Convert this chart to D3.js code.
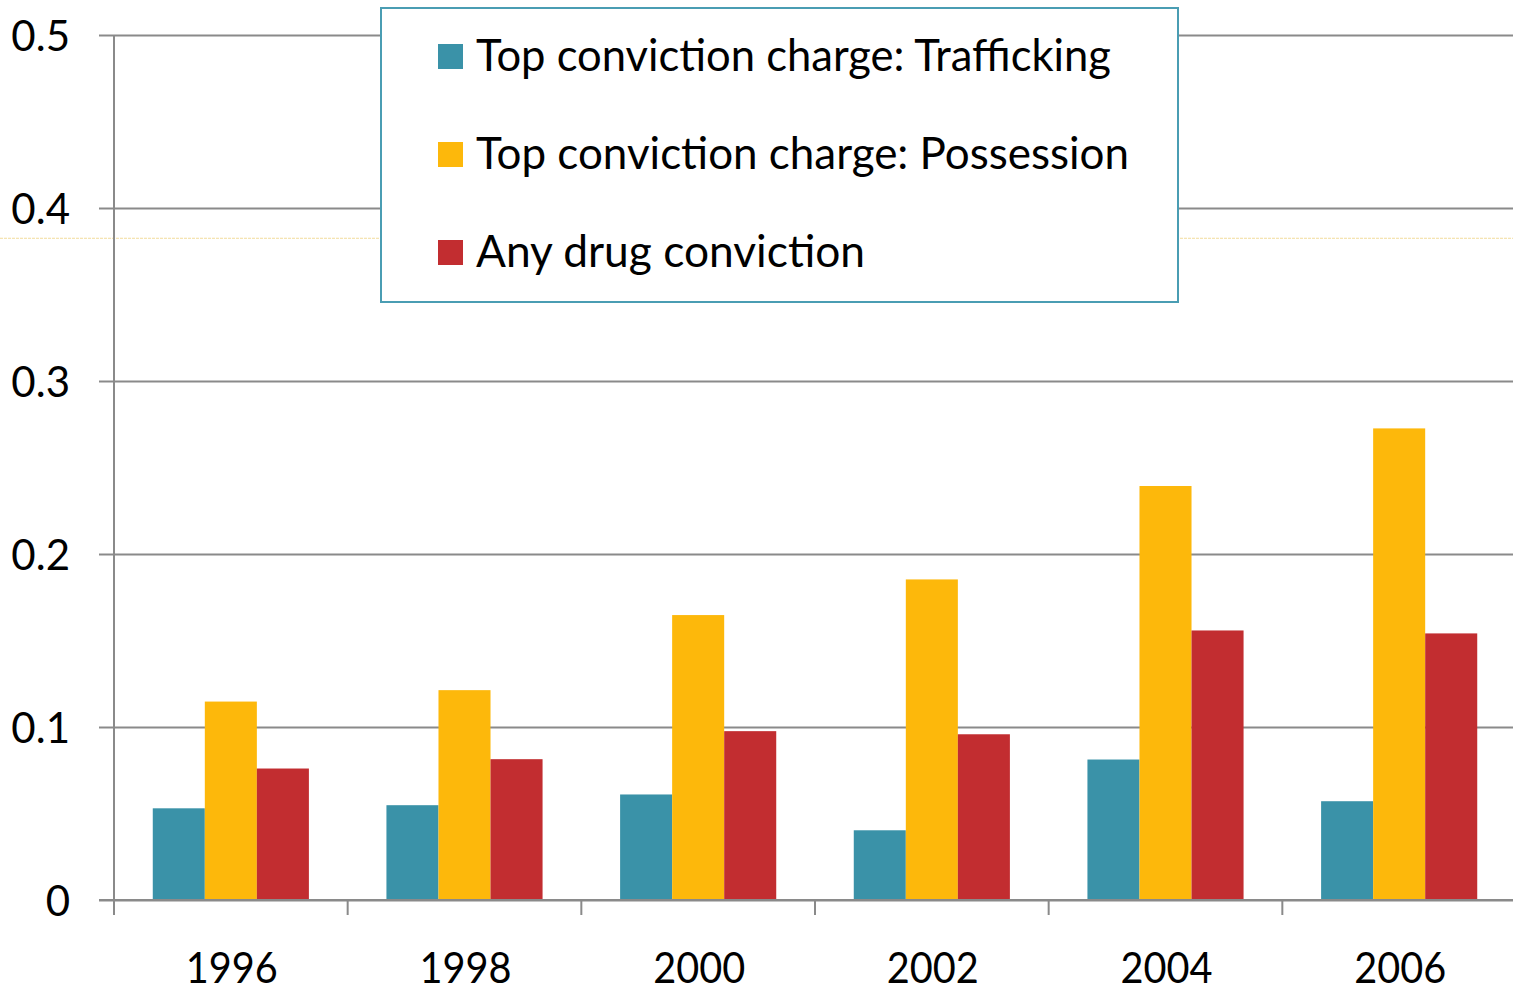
<!DOCTYPE html>
<html>
<head>
<meta charset="utf-8">
<script src="https://cdn.jsdelivr.net/npm/d3@7"></script>
<style>
    html, body { margin: 0; padding: 0; background: #fff; overflow: hidden; }
    #chart { width: 1513px; height: 992px; }
    text { font-family: "Gill Sans", "Gill Sans MT", Lato, "Noto Sans", sans-serif; fill: #000; }
</style>
</head>
<body>
<div id="chart"></div>
<script>
///// DATOS /////
let years = ['1996', '1998', '2000', '2002', '2004', '2006'];
let seriesNames = ['Top conviction charge: Trafficking', 'Top conviction charge: Possession', 'Any drug conviction'];
let trafficking = [0.053, 0.0548, 0.061, 0.0403, 0.0812, 0.0571];
let possession = [0.1147, 0.1213, 0.1647, 0.1853, 0.2393, 0.2726];
let anyDrug = [0.076, 0.0814, 0.0976, 0.0958, 0.1558, 0.1541];
let yTicks = [0, 0.1, 0.2, 0.3, 0.4, 0.5];
let colors = ['#3a92a8', '#fdb80b', '#c22d30'];
let strayLineValue = 0.3825; //línea amarilla tenue que aparece en el original

let innerData = years.map(function(y, i) {
    return { year: y, values: [trafficking[i], possession[i], anyDrug[i]] };
});

///// GRÁFICO /////
let chartBlock = d3.select('#chart');
//el área de dibujo se sale un poco por la derecha, como en el original
let margin = {top: 35, right: -3, bottom: 92, left: 114};
let width = 1513 - margin.left - margin.right,
    height = 992 - margin.top - margin.bottom;

let svg = chartBlock.append('svg')
    .attr('width', 1513)
    .attr('height', 992);

let chart = svg.append('g')
    .attr('transform', 'translate(' + margin.left + ',' + margin.top + ')');

//Escalas
let x0 = d3.scaleBand()
    .domain(years)
    .range([0, width])
    .paddingInner(0)
    .paddingOuter(0);

let x1 = d3.scaleBand()
    .domain(d3.range(seriesNames.length))
    .range([0, x0.step()])
    .paddingInner(0)
    .paddingOuter(0.745);

let y = d3.scaleLinear()
    .domain([0, 0.5])
    .range([height, 0]);

//Línea amarilla suelta
chart.append('line')
    .attr('x1', -margin.left)
    .attr('x2', width)
    .attr('y1', y(strayLineValue))
    .attr('y2', y(strayLineValue))
    .attr('stroke', '#f3dc9c')
    .attr('stroke-width', 1)
    .attr('stroke-dasharray', '3,1');

//Eje Y con líneas de rejilla
let yAxis = function(g) {
    g.call(d3.axisLeft(y).tickValues(yTicks).tickSize(15).tickPadding(29)
        .tickFormat(function(d) { return d === 0 ? '0' : d3.format('.1f')(d); }));
    g.call(function(g) { g.select('.domain').remove(); });
    g.call(function(g) {
        g.selectAll('.tick line').clone()
            .attr('x1', 0)
            .attr('x2', width);
    });
    g.selectAll('.tick line')
        .attr('stroke', '#8a8a8a')
        .attr('stroke-width', 2);
    g.selectAll('.tick text')
        .attr('dy', '0.36em')
        .style('font-size', '42px');
};

chart.append('g').call(yAxis);

//Barras
chart.append('g')
    .selectAll('g')
    .data(innerData)
    .enter()
    .append('g')
    .attr('transform', function(d) { return 'translate(' + x0(d.year) + ',0)'; })
    .selectAll('rect')
    .data(function(d) { return d.values.map(function(v, i) { return {i: i, v: v}; }); })
    .enter()
    .append('rect')
    .attr('x', function(d) { return x1(d.i); })
    .attr('width', x1.bandwidth())
    .attr('y', function(d) { return y(d.v); })
    .attr('height', function(d) { return y(0) - y(d.v); })
    .attr('fill', function(d) { return colors[d.i]; });

//Eje vertical
chart.append('line')
    .attr('x1', 0).attr('x2', 0)
    .attr('y1', 0).attr('y2', height + 15)
    .attr('stroke', '#8a8a8a')
    .attr('stroke-width', 2);

//Eje X
let xAxisG = chart.append('g')
    .attr('transform', 'translate(0,' + height + ')');

xAxisG.append('line')
    .attr('x1', -15).attr('x2', width)
    .attr('stroke', '#8a8a8a')
    .attr('stroke-width', 2);

xAxisG.selectAll('.xtick')
    .data(years.slice(1))
    .enter()
    .append('line')
    .attr('x1', function(d) { return x0(d); })
    .attr('x2', function(d) { return x0(d); })
    .attr('y1', 0).attr('y2', 15)
    .attr('stroke', '#8a8a8a')
    .attr('stroke-width', 2);

xAxisG.selectAll('.xlabel')
    .data(years)
    .enter()
    .append('text')
    .attr('x', function(d) { return x0(d) + x0.bandwidth() / 2 + 1; })
    .attr('y', 83)
    .attr('text-anchor', 'middle')
    .attr('textLength', 92)
    .attr('lengthAdjust', 'spacingAndGlyphs')
    .style('font-size', '43px')
    .text(function(d) { return d; });

///// LEYENDA /////
let legendBox = {x: 381, y: 8, w: 797, h: 294};
let legendWidths = [635, 653, 389];

let legend = svg.append('g');
legend.append('rect')
    .attr('x', legendBox.x)
    .attr('y', legendBox.y)
    .attr('width', legendBox.w)
    .attr('height', legendBox.h)
    .attr('fill', '#fff')
    .attr('stroke', '#4a9db3')
    .attr('stroke-width', 2);

let items = legend.selectAll('.item')
    .data(seriesNames)
    .enter()
    .append('g')
    .attr('transform', function(d, i) { return 'translate(438,' + (44 + i * 98) + ')'; });

items.append('rect')
    .attr('width', 25)
    .attr('height', 25)
    .attr('fill', function(d, i) { return colors[i]; });

items.append('text')
    .attr('x', 38)
    .attr('y', 27)
    .attr('textLength', function(d, i) { return legendWidths[i]; })
    .attr('lengthAdjust', 'spacingAndGlyphs')
    .style('font-size', '45px')
    .text(function(d) { return d; });
</script>
</body>
</html>
